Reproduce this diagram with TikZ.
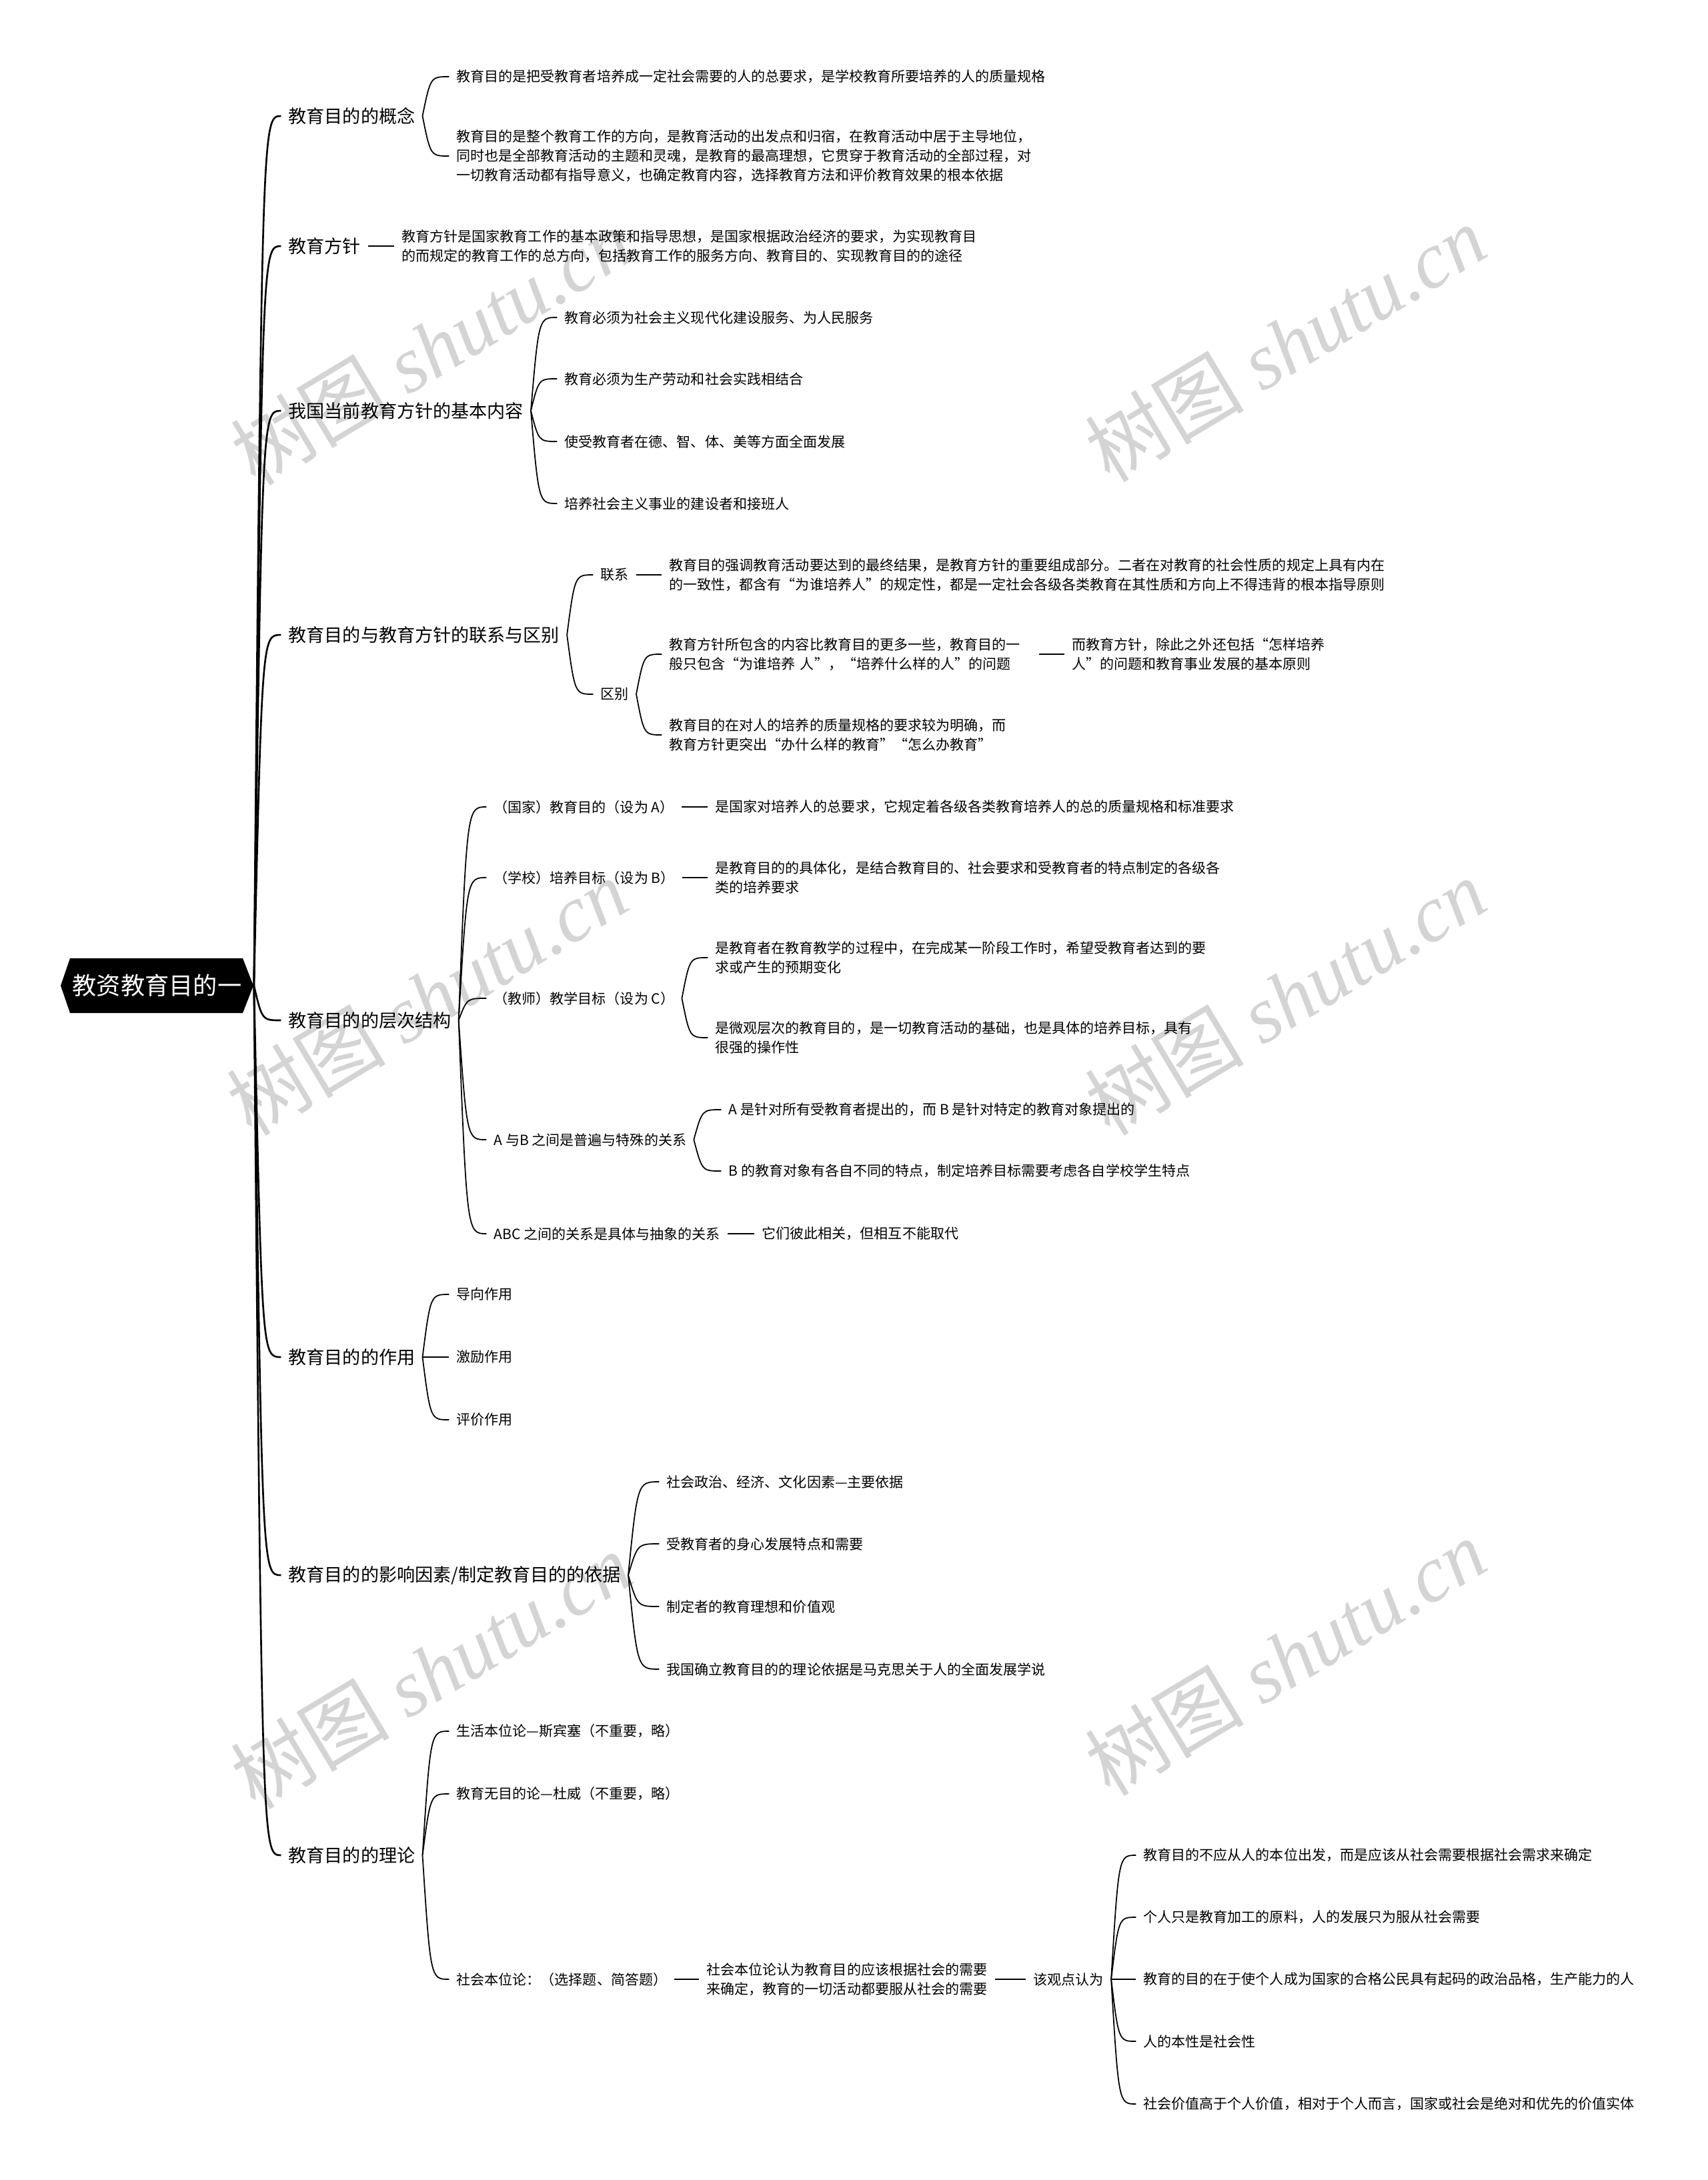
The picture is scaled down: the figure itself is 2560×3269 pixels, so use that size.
\documentclass[tikz,border=0pt]{standalone}
\usepackage{fontspec}
\setmainfont{Noto Sans CJK SC}
\newfontfamily\wmlatin{Liberation Serif}
\usetikzlibrary{calc}
\newcommand\brc[3][brl]{\draw[#1] let \p1=(#2.east), \p2=(#3.west) in (\p1) .. controls ({\x1+0.3*(\x2-\x1)},\y2) .. (\p2);}
\newcommand\lnk[2]{\draw[brl] (#1.east) -- (#2.west);}
\begin{document}
\begin{tikzpicture}[x=0.01cm,y=-0.01cm,
  l1/.style={font=\fontsize{7.7pt}{10pt}\selectfont, anchor=west, inner xsep=3pt, inner ysep=1pt, xshift=-3pt},
  l2/.style={font=\fontsize{5.98pt}{8.2pt}\selectfont, anchor=west, align=left, inner xsep=3pt, inner ysep=1pt, xshift=-3pt},
  brl/.style={line width=0.5pt, black},
  trunk/.style={line width=0.75pt, black},
  wm/.style={text=black!17, font=\fontsize{34pt}{34pt}\selectfont, rotate=31, inner sep=0pt},
  rootst/.style={text=white, font=\fontsize{10.3pt}{12pt}\selectfont, inner sep=0pt, minimum width=2.89cm, minimum height=0.82cm}]
\fill[white] (0,0) rectangle (2560,3269);
\useasboundingbox (0,0) rectangle (2560,3269);
% watermarks
\node[wm] (w1) at (646,520) {树图 {\wmlatin\itshape shutu.cn}};
\node[wm] (w2) at (1927,515) {树图 {\wmlatin\itshape shutu.cn}};
\node[wm] (w3) at (640,1495) {树图 {\wmlatin\itshape shutu.cn}};
\node[wm] (w4) at (1927,1495) {树图 {\wmlatin\itshape shutu.cn}};
\node[wm] (w5) at (646,2505) {树图 {\wmlatin\itshape shutu.cn}};
\node[wm] (w6) at (1927,2485) {树图 {\wmlatin\itshape shutu.cn}};
% root
\fill[black] (91,1478) -- (105,1437) -- (364,1437) -- (380,1478) -- (364,1519) -- (105,1519) -- cycle;
\node[rootst] (root) at (235.5,1478) {教资教育目的一};
% level 1
\node[l1] (n1) at (432,174) {教育目的的概念};
\node[l1] (n2) at (432,369) {教育方针};
\node[l1] (n3) at (432,616) {我国当前教育方针的基本内容};
\node[l1] (n4) at (432,952) {教育目的与教育方针的联系与区别};
\node[l1] (n5) at (432,1530) {教育目的的层次结构};
\node[l1] (n6) at (432,2035) {教育目的的作用};
\node[l1] (n7) at (432,2362) {教育目的的影响因素/制定教育目的的依据};
\node[l1] (n8) at (432,2782) {教育目的的理论};
\foreach \k in {n1,n2,n3,n4,n5,n6,n7,n8} {\brc[trunk]{root}{\k}}
% n1
\node[l2] (n1a) at (684,115) {教育目的是把受教育者培养成一定社会需要的人的总要求，是学校教育所要培养的人的质量规格};
\node[l2] (n1b) at (684,234) {教育目的是整个教育工作的方向，是教育活动的出发点和归宿，在教育活动中居于主导地位，\\同时也是全部教育活动的主题和灵魂，是教育的最高理想，它贯穿于教育活动的全部过程，对\\一切教育活动都有指导意义，也确定教育内容，选择教育方法和评价教育效果的根本依据};
\brc{n1}{n1a}\brc{n1}{n1b}
% n2
\node[l2] (n2a) at (602,369) {教育方针是国家教育工作的基本政策和指导思想，是国家根据政治经济的要求，为实现教育目\\的而规定的教育工作的总方向，包括教育工作的服务方向、教育目的、实现教育目的的途径};
\lnk{n2}{n2a}
% n3
\node[l2] (n3a) at (846,476) {教育必须为社会主义现代化建设服务、为人民服务};
\node[l2] (n3b) at (846,568) {教育必须为生产劳动和社会实践相结合};
\node[l2] (n3c) at (846,662) {使受教育者在德、智、体、美等方面全面发展};
\node[l2] (n3d) at (846,755) {培养社会主义事业的建设者和接班人};
\brc{n3}{n3a}\brc{n3}{n3b}\brc{n3}{n3c}\brc{n3}{n3d}
% n4
\node[l2] (n4a) at (900,862) {联系};
\node[l2] (n4b) at (900,1041) {区别};
\brc{n4}{n4a}\brc{n4}{n4b}
\node[l2] (n4a1) at (1003,862) {教育目的强调教育活动要达到的最终结果，是教育方针的重要组成部分。二者在对教育的社会性质的规定上具有内在\\的一致性，都含有“为谁培养人”的规定性，都是一定社会各级各类教育在其性质和方向上不得违背的根本指导原则};
\lnk{n4a}{n4a1}
\node[l2, text width=5.43cm] (n4b1) at (1003,981) {教育方针所包含的内容比教育目的更多一些，教育目的一\\般只包含“为谁培养 人”，“培养什么样的人”的问题};
\node[l2] (n4b1x) at (1607,981) {而教育方针，除此之外还包括“怎样培养\\人”的问题和教育事业发展的基本原则};
\node[l2] (n4b2) at (1003,1102) {教育目的在对人的培养的质量规格的要求较为明确，而\\教育方针更突出“办什么样的教育”“怎么办教育”};
\brc{n4b}{n4b1}\brc{n4b}{n4b2}
\lnk{n4b1}{n4b1x}
% n5
\node[l2] (n5a) at (740,1210) {（国家）教育目的（设为 A）};
\node[l2] (n5b) at (740,1316) {（学校）培养目标（设为 B）};
\node[l2] (n5c) at (740,1497) {（教师）教学目标（设为 C）};
\node[l2] (n5d) at (740,1709) {A 与B 之间是普遍与特殊的关系};
\node[l2] (n5e) at (740,1850) {ABC 之间的关系是具体与抽象的关系};
\brc{n5}{n5a}\brc{n5}{n5b}\brc{n5}{n5c}\brc{n5}{n5d}\brc{n5}{n5e}
\node[l2] (n5a1) at (1072,1210) {是国家对培养人的总要求，它规定着各级各类教育培养人的总的质量规格和标准要求};
\lnk{n5a}{n5a1}
\node[l2] (n5b1) at (1072,1316) {是教育目的的具体化，是结合教育目的、社会要求和受教育者的特点制定的各级各\\类的培养要求};
\lnk{n5b}{n5b1}
\node[l2] (n5c1) at (1072,1436) {是教育者在教育教学的过程中，在完成某一阶段工作时，希望受教育者达到的要\\求或产生的预期变化};
\node[l2] (n5c2) at (1072,1556) {是微观层次的教育目的，是一切教育活动的基础，也是具体的培养目标，具有\\很强的操作性};
\brc{n5c}{n5c1}\brc{n5c}{n5c2}
\node[l2] (n5d1) at (1092,1664) {A 是针对所有受教育者提出的，而 B 是针对特定的教育对象提出的};
\node[l2] (n5d2) at (1092,1756) {B 的教育对象有各自不同的特点，制定培养目标需要考虑各自学校学生特点};
\brc{n5d}{n5d1}\brc{n5d}{n5d2}
\node[l2] (n5e1) at (1142,1850) {它们彼此相关，但相互不能取代};
\lnk{n5e}{n5e1}
% n6
\node[l2] (n6a) at (684,1941) {导向作用};
\node[l2] (n6b) at (684,2035) {激励作用};
\node[l2] (n6c) at (684,2129) {评价作用};
\brc{n6}{n6a}\brc{n6}{n6b}\brc{n6}{n6c}
% n7
\node[l2] (n7a) at (999,2222) {社会政治、经济、文化因素—主要依据};
\node[l2] (n7b) at (999,2315) {受教育者的身心发展特点和需要};
\node[l2] (n7c) at (999,2409) {制定者的教育理想和价值观};
\node[l2] (n7d) at (999,2503) {我国确立教育目的的理论依据是马克思关于人的全面发展学说};
\brc{n7}{n7a}\brc{n7}{n7b}\brc{n7}{n7c}\brc{n7}{n7d}
% n8
\node[l2] (n8a) at (684,2596) {生活本位论—斯宾塞（不重要，略）};
\node[l2] (n8b) at (684,2690) {教育无目的论—杜威（不重要，略）};
\node[l2] (n8c) at (684,2968) {社会本位论：（选择题、简答题）};
\brc{n8}{n8a}\brc{n8}{n8b}\brc{n8}{n8c}
\node[l2] (n8c1) at (1059,2968) {社会本位论认为教育目的应该根据社会的需要\\来确定，教育的一切活动都要服从社会的需要};
\lnk{n8c}{n8c1}
\node[l2] (n8c2) at (1549,2968) {该观点认为};
\lnk{n8c1}{n8c2}
\node[l2] (v1) at (1714,2782) {教育目的不应从人的本位出发，而是应该从社会需要根据社会需求来确定};
\node[l2] (v2) at (1714,2875) {个人只是教育加工的原料，人的发展只为服从社会需要};
\node[l2] (v3) at (1714,2968) {教育的目的在于使个人成为国家的合格公民具有起码的政治品格，生产能力的人};
\node[l2] (v4) at (1714,3061) {人的本性是社会性};
\node[l2] (v5) at (1714,3155) {社会价值高于个人价值，相对于个人而言，国家或社会是绝对和优先的价值实体};
\brc{n8c2}{v1}\brc{n8c2}{v2}\brc{n8c2}{v3}\brc{n8c2}{v4}\brc{n8c2}{v5}
\end{tikzpicture}
\end{document}
